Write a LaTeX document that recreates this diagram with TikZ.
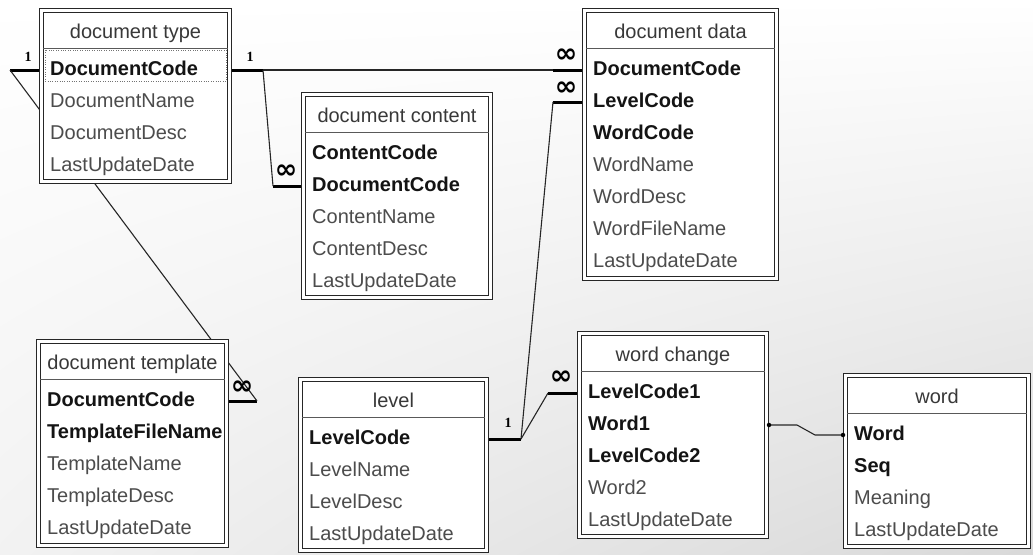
\documentclass[tikz,border=0pt]{standalone}
\usepackage{fontspec}
\setmainfont{Liberation Sans}
\newfontfamily\relfont{Liberation Serif}
\newfontfamily\symfont{DejaVu Sans}
\usetikzlibrary{calc,shadings}
\pgfdeclarelayer{paper}
\pgfdeclarelayer{links}
\pgfsetlayers{paper,links,main}

\begin{document}
\begin{tikzpicture}[
    x = 1pt, y = -1pt,
    tbl/.style = {draw=black!85, double=white, double distance=2.8pt, line width=1pt,
                  fill=white, anchor=north west, inner sep=0pt},
    ttl/.style = {font=\fontsize{20}{24}\selectfont, text=black!78, inner sep=0pt,
                  text height=15pt, text depth=4pt},
    key/.style = {font=\fontsize{20}{24}\selectfont\bfseries, text=black!92, inner sep=0pt,
                  anchor=west, text height=15pt, text depth=4pt},
    fld/.style = {key, font=\fontsize{20}{24}\selectfont, text=black!70},
    sep/.style = {draw=black!65, line width=0.9pt, shorten <=2pt, shorten >=2pt},
    stub/.style = {line width=3pt},
    rel/.style = {line width=1.1pt, black!85},
    one/.style = {font=\relfont\bfseries\fontsize{14}{14}\selectfont, inner sep=0pt},
    many/.style = {font=\symfont\bfseries\fontsize{27}{27}\selectfont, inner sep=0pt},
    dot/.style = {circle, fill=black, inner sep=0pt, minimum size=4.5pt}]
    \useasboundingbox (0,0) rectangle (1033,554);
    % PAPER
    \begin{pgfonlayer}{paper}
    \shade[upper left=white, upper right=white, lower left=black!5, lower right=black!15]
        (0,0) rectangle (1033,554);
    \end{pgfonlayer}

    % TABLES
    % document type
    \node[tbl, minimum width=188pt, minimum height=171pt] (dt) at (41,10) {};
    \draw[sep] ([yshift=-38pt]dt.north west) -- ([yshift=-38pt]dt.north east);
    \node[ttl] (dt-title) at ([yshift=-23pt]dt.north) {document type};
    \node[key] (dt-code) at ([xshift=9pt,yshift=-60pt]dt.north west) {DocumentCode};
    \node[fld] (dt-name) at ([yshift=-32pt]dt-code.west) {DocumentName};
    \node[fld] (dt-desc) at ([yshift=-32pt]dt-name.west) {DocumentDesc};
    \node[fld] (dt-date) at ([yshift=-32pt]dt-desc.west) {LastUpdateDate};
    \draw[black!55, dotted] ([xshift=4pt,yshift=-40pt]dt.north west)
        rectangle ([xshift=-4pt,yshift=-71pt]dt.north east);

    % document content
    \node[tbl, minimum width=187pt, minimum height=203pt] (dc) at (303,94) {};
    \draw[sep] ([yshift=-38pt]dc.north west) -- ([yshift=-38pt]dc.north east);
    \node[ttl] (dc-title) at ([yshift=-23pt]dc.north) {document content};
    \node[key] (dc-code) at ([xshift=9pt,yshift=-60pt]dc.north west) {ContentCode};
    \node[key] (dc-doc) at ([yshift=-32pt]dc-code.west) {DocumentCode};
    \node[fld] (dc-name) at ([yshift=-32pt]dc-doc.west) {ContentName};
    \node[fld] (dc-desc) at ([yshift=-32pt]dc-name.west) {ContentDesc};
    \node[fld] (dc-date) at ([yshift=-32pt]dc-desc.west) {LastUpdateDate};

    % document data
    \node[tbl, minimum width=192pt, minimum height=268pt] (dd) at (584,10) {};
    \draw[sep] ([yshift=-38pt]dd.north west) -- ([yshift=-38pt]dd.north east);
    \node[ttl] (dd-title) at ([yshift=-23pt]dd.north) {document data};
    \node[key] (dd-doc) at ([xshift=9pt,yshift=-60pt]dd.north west) {DocumentCode};
    \node[key] (dd-level) at ([yshift=-32pt]dd-doc.west) {LevelCode};
    \node[key] (dd-word) at ([yshift=-32pt]dd-level.west) {WordCode};
    \node[fld] (dd-name) at ([yshift=-32pt]dd-word.west) {WordName};
    \node[fld] (dd-desc) at ([yshift=-32pt]dd-name.west) {WordDesc};
    \node[fld] (dd-file) at ([yshift=-32pt]dd-desc.west) {WordFileName};
    \node[fld] (dd-date) at ([yshift=-32pt]dd-file.west) {LastUpdateDate};

    % document template
    \node[tbl, minimum width=188pt, minimum height=204pt] (dm) at (38,341) {};
    \draw[sep] ([yshift=-38pt]dm.north west) -- ([yshift=-38pt]dm.north east);
    \node[ttl] (dm-title) at ([yshift=-23pt]dm.north) {document template};
    \node[key] (dm-doc) at ([xshift=9pt,yshift=-60pt]dm.north west) {DocumentCode};
    \node[key] (dm-file) at ([yshift=-32pt]dm-doc.west) {TemplateFileName};
    \node[fld] (dm-name) at ([yshift=-32pt]dm-file.west) {TemplateName};
    \node[fld] (dm-desc) at ([yshift=-32pt]dm-name.west) {TemplateDesc};
    \node[fld] (dm-date) at ([yshift=-32pt]dm-desc.west) {LastUpdateDate};

    % level
    \node[tbl, minimum width=186pt, minimum height=171pt] (lv) at (300,379) {};
    \draw[sep] ([yshift=-38pt]lv.north west) -- ([yshift=-38pt]lv.north east);
    \node[ttl] (lv-title) at ([yshift=-23pt]lv.north) {level};
    \node[key] (lv-code) at ([xshift=9pt,yshift=-60pt]lv.north west) {LevelCode};
    \node[fld] (lv-name) at ([yshift=-32pt]lv-code.west) {LevelName};
    \node[fld] (lv-desc) at ([yshift=-32pt]lv-name.west) {LevelDesc};
    \node[fld] (lv-date) at ([yshift=-32pt]lv-desc.west) {LastUpdateDate};

    % word change
    \node[tbl, minimum width=187pt, minimum height=203pt] (wc) at (579,333) {};
    \draw[sep] ([yshift=-38pt]wc.north west) -- ([yshift=-38pt]wc.north east);
    \node[ttl] (wc-title) at ([yshift=-23pt]wc.north) {word change};
    \node[key] (wc-lc1) at ([xshift=9pt,yshift=-60pt]wc.north west) {LevelCode1};
    \node[key] (wc-w1) at ([yshift=-32pt]wc-lc1.west) {Word1};
    \node[key] (wc-lc2) at ([yshift=-32pt]wc-w1.west) {LevelCode2};
    \node[fld] (wc-w2) at ([yshift=-32pt]wc-lc2.west) {Word2};
    \node[fld] (wc-date) at ([yshift=-32pt]wc-w2.west) {LastUpdateDate};

    % word
    \node[tbl, minimum width=183pt, minimum height=171pt] (wd) at (845,375) {};
    \draw[sep] ([yshift=-38pt]wd.north west) -- ([yshift=-38pt]wd.north east);
    \node[ttl] (wd-title) at ([yshift=-23pt]wd.north) {word};
    \node[key] (wd-word) at ([xshift=9pt,yshift=-60pt]wd.north west) {Word};
    \node[key] (wd-seq) at ([yshift=-32pt]wd-word.west) {Seq};
    \node[fld] (wd-mean) at ([yshift=-32pt]wd-seq.west) {Meaning};
    \node[fld] (wd-date) at ([yshift=-32pt]wd-mean.west) {LastUpdateDate};

    % RELATIONSHIPS
    \begin{pgfonlayer}{links}
    % stub ends
    \coordinate (dt-l) at ($(dt.west |- dt-code.west)+(-31,0)$);
    \coordinate (dt-r) at ($(dt.east |- dt-code.west)+(33,0)$);
    \coordinate (dc-l) at ($(dc.west |- dc-doc.west)+(-30,0)$);
    \coordinate (dd-l1) at ($(dd.west |- dd-doc.west)+(-31,0)$);
    \coordinate (dd-l2) at ($(dd.west |- dd-level.west)+(-31,0)$);
    \coordinate (dm-r) at ($(dm.east |- dm-doc.west)+(30,0)$);
    \coordinate (lv-r) at ($(lv.east |- lv-code.west)+(34,0)$);
    \coordinate (wc-l) at ($(wc.west |- wc-lc1.west)+(-31,0)$);
    \coordinate (wc-j) at ($(wc.east |- wc-w1.west)+(30,0)$);
    \coordinate (wd-j) at ($(wd.west |- wd-word.west)+(-30,0)$);
    % thick stubs
    \draw[stub] (dt.west |- dt-code.west) -- (dt-l);
    \draw[stub] (dt.east |- dt-code.west) -- (dt-r);
    \draw[stub] (dc.west |- dc-doc.west) -- (dc-l);
    \draw[stub] (dd.west |- dd-doc.west) -- (dd-l1);
    \draw[stub] (dd.west |- dd-level.west) -- (dd-l2);
    \draw[stub] (dm.east |- dm-doc.west) -- (dm-r);
    \draw[stub] (lv.east |- lv-code.west) -- (lv-r);
    \draw[stub] (wc.west |- wc-lc1.west) -- (wc-l);
    % join lines
    \draw[rel] (dt-l) -- (dm-r);
    \draw[rel] (dt-r) -- (dc-l);
    \draw[rel] (dt-r) -- (dd-l1);
    \draw[rel] (lv-r) -- (dd-l2);
    \draw[rel] (lv-r) -- (wc-l);
    \draw[rel] (wc.east |- wc-w1.west) -- (wc-j) -- (wd-j) -- (wd.west |- wd-word.west);
    \end{pgfonlayer}

    % end markers
    \node[dot] (wc-dot) at ($(wc.east |- wc-w1.west)+(2,0)$) {};
    \node[dot] (wd-dot) at ($(wd.west |- wd-word.west)+(-2,0)$) {};
    \node[one] (one-dtl) at ($(dt-l)+(18,-13)$) {1};
    \node[one] (one-dtr) at ($(dt-r)+(-13,-13)$) {1};
    \node[one] (one-lv) at ($(lv-r)+(-13,-16)$) {1};
    \node[many] (many-dc) at ($(dc-l)+(13,-14)$) {∞};
    \node[many] (many-dd1) at ($(dd-l1)+(13,-14)$) {∞};
    \node[many] (many-dd2) at ($(dd-l2)+(13,-13)$) {∞};
    \node[many] (many-dm) at ($(dm-r)+(-15,-13)$) {∞};
    \node[many] (many-wc) at ($(wc-l)+(13,-15)$) {∞};
\end{tikzpicture}
\end{document}
